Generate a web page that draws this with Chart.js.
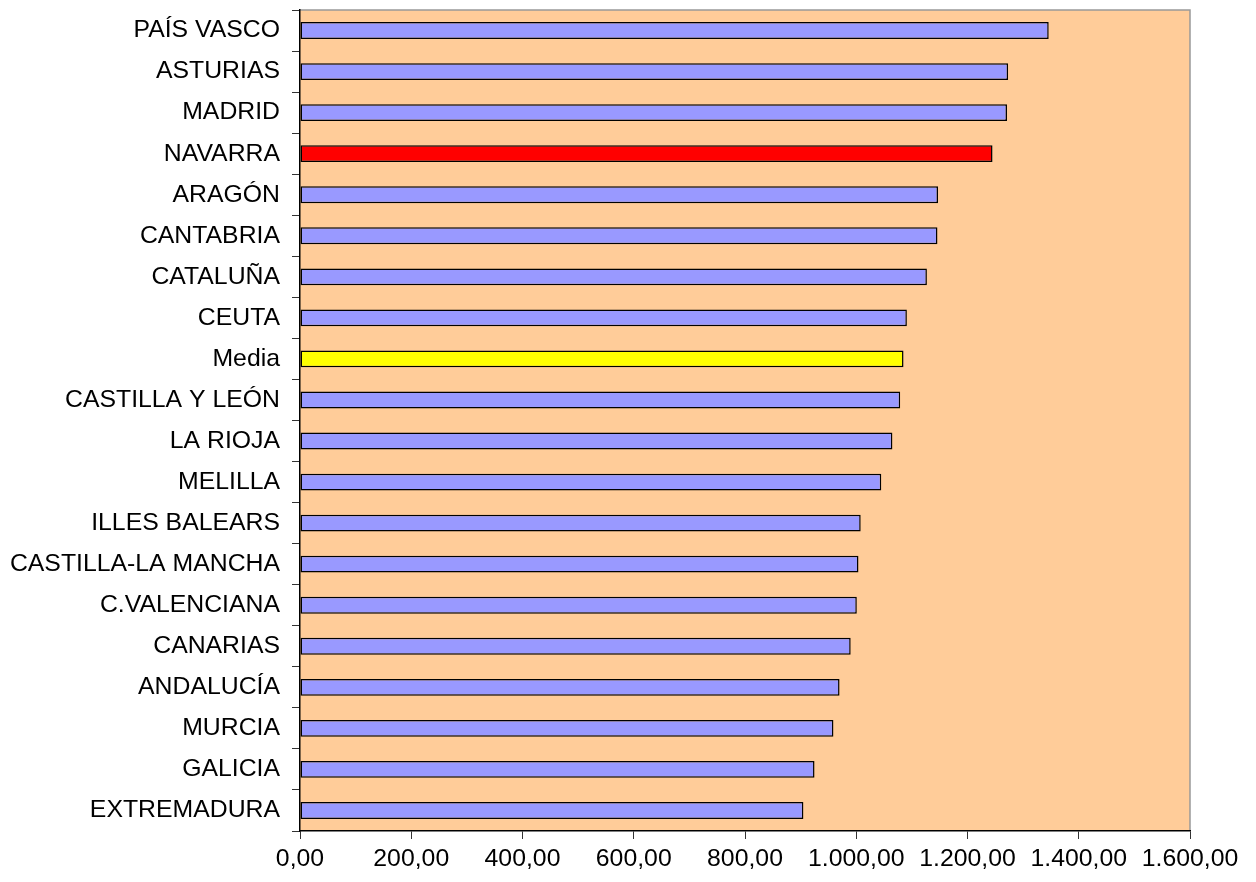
<!DOCTYPE html>
<html>
<head>
<meta charset="utf-8">
<script src="https://cdn.jsdelivr.net/npm/chart.js@4"></script>
<style>
    html, body { margin: 0; padding: 0; background: #fff; }
    #wrap { width: 1256px; height: 882px; }
</style>
</head>
<body>
<div id="wrap"><canvas id="mainChart"></canvas></div>
<script>
const regions = ['PAÍS VASCO', 'ASTURIAS', 'MADRID', 'NAVARRA', 'ARAGÓN', 'CANTABRIA', 'CATALUÑA',
    'CEUTA', 'Media', 'CASTILLA Y LEÓN', 'LA RIOJA', 'MELILLA', 'ILLES BALEARS', 'CASTILLA-LA MANCHA',
    'C.VALENCIANA', 'CANARIAS', 'ANDALUCÍA', 'MURCIA', 'GALICIA', 'EXTREMADURA'];
const values = [1346, 1273, 1271, 1245, 1147, 1146, 1127, 1091, 1085, 1079, 1065, 1045, 1008, 1004,
    1001, 990, 970, 959, 925, 905];
const xTicks = [0, 200, 400, 600, 800, 1000, 1200, 1400, 1600];

function barColor(name) {
    if (name === 'NAVARRA') return '#FF0000';
    if (name === 'Media') return '#FFFF00';
    return '#9999FF';
}

function fmt(v) {
    const parts = v.toFixed(2).split('.');
    parts[0] = parts[0].replace(/\B(?=(\d{3})+(?!\d))/g, '.');
    return parts[0] + ',' + parts[1];
}

const plotBg = {
    id: 'plotBg',
    beforeDraw(chart) {
        const { ctx, chartArea: a } = chart;
        ctx.save();
        ctx.fillStyle = '#FFCC99';
        ctx.fillRect(a.left, a.top, a.right - a.left, a.bottom - a.top);
        ctx.strokeStyle = '#999999';
        ctx.lineWidth = 1.5;
        ctx.beginPath();
        ctx.moveTo(a.left, a.top);
        ctx.lineTo(a.right, a.top);
        ctx.lineTo(a.right, a.bottom);
        ctx.stroke();
        ctx.restore();
    }
};

Chart.defaults.font.family = '"Liberation Sans", Arial, sans-serif';
Chart.defaults.font.size = 24.8;
Chart.defaults.color = '#000';

new Chart(document.getElementById('mainChart'), {
    type: 'bar',
    data: {
        labels: regions,
        datasets: [{
            data: values,
            backgroundColor: regions.map(barColor),
            borderColor: '#000',
            borderWidth: 1.5,
            borderSkipped: false,
            categoryPercentage: 1,
            barPercentage: 0.41
        }]
    },
    options: {
        indexAxis: 'y',
        responsive: true,
        maintainAspectRatio: false,
        animation: false,
        layout: { padding: { top: 10, right: 66, left: 0, bottom: 0 } },
        plugins: {
            legend: { display: false },
            tooltip: { enabled: false }
        },
        scales: {
            x: {
                min: 0,
                max: 1600,
                afterBuildTicks(s) { s.ticks = xTicks.map(v => ({ value: v })); },
                afterFit(s) { s.height = 51; },
                ticks: { callback: v => fmt(v), padding: 5, maxRotation: 0 },
                grid: { drawOnChartArea: false, tickLength: 8, color: '#333' },
                border: { color: '#000', width: 1.5 }
            },
            y: {
                afterFit(s) {
                    s.width = 300;
                    s.paddingTop = 0;
                    s.paddingBottom = 0;
                },
                ticks: { padding: 12 },
                grid: { drawOnChartArea: false, tickLength: 8, color: '#333', offset: true },
                border: { color: '#000', width: 1.5 }
            }
        }
    },
    plugins: [plotBg]
});
</script>
</body>
</html>
